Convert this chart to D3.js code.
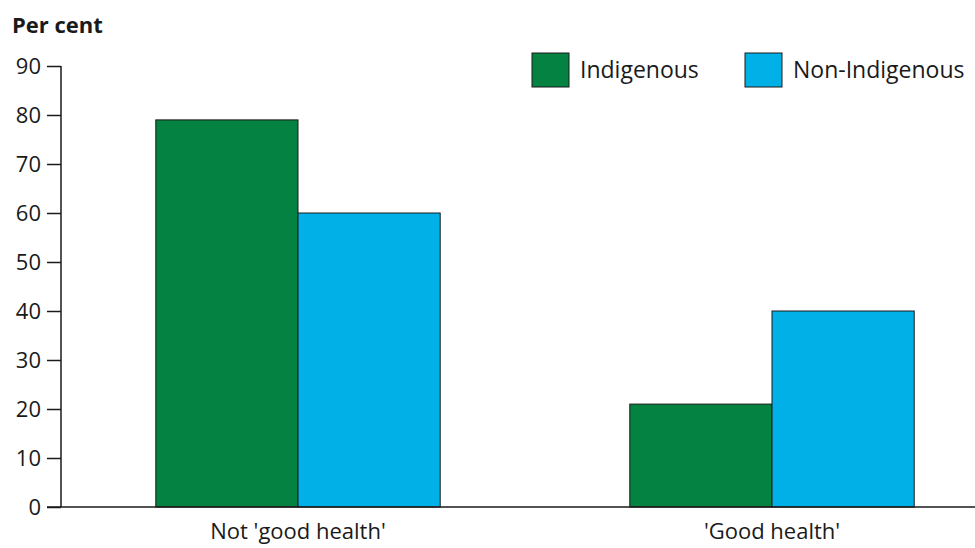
<!DOCTYPE html>
<html>
<head>
<meta charset="utf-8">
<script src="https://cdn.jsdelivr.net/npm/d3@7"></script>
<style>
  body { margin: 0; background: #fff; }
  text { font-family: "Open Sans", sans-serif; }
</style>
</head>
<body>
<script>
// chart data
const categories = ["Not 'good health'", "'Good health'"];
const seriesNames = ["Indigenous", "Non-Indigenous"];
const indigenous = [79, 21];
const nonIndigenous = [60, 40];
const yTicks = [0, 10, 20, 30, 40, 50, 60, 70, 80, 90];

const colors = ["#038241", "#00b0e6"];

const svg = d3.select("body").append("svg")
  .attr("width", 975)
  .attr("height", 548);

const y = d3.scaleLinear().domain([0, 90]).range([507, 66]);

const x0 = d3.scaleBand()
  .domain(categories)
  .range([61, 1009])
  .paddingInner(0.4)
  .paddingOuter(0.2);

const x1 = d3.scaleBand()
  .domain(seriesNames)
  .range([0, x0.bandwidth()]);

const rows = categories.map((c, i) => ({
  cat: c,
  vals: [
    {name: seriesNames[0], v: indigenous[i]},
    {name: seriesNames[1], v: nonIndigenous[i]}
  ]
}));

// bars
const groups = svg.selectAll("g.grp")
  .data(rows)
  .enter().append("g")
  .attr("class", "grp")
  .attr("transform", d => "translate(" + x0(d.cat) + ",0)");

groups.selectAll("rect")
  .data(d => d.vals)
  .enter().append("rect")
  .attr("x", d => x1(d.name))
  .attr("y", d => y(d.v))
  .attr("width", x1.bandwidth())
  .attr("height", d => y(0) - y(d.v))
  .attr("fill", (d, i) => colors[i])
  .attr("stroke", "#1a1a1a")
  .attr("stroke-width", 1);

// y axis
const yAxis = svg.append("g")
  .attr("transform", "translate(61,0)")
  .call(d3.axisLeft(y).tickValues(yTicks).tickSize(14).tickPadding(6));
yAxis.select(".domain").attr("stroke", "#1a1a1a").attr("stroke-width", 1.5)
  .attr("d", "M0," + y(90) + "V" + y(0));
yAxis.selectAll(".tick line").attr("stroke", "#1a1a1a").attr("stroke-width", 1.5);
yAxis.selectAll(".tick text")
  .attr("font-size", 22)
  .attr("fill", "#1a1a1a")
  .style("font-family", "'Open Sans', sans-serif");

// baseline
svg.append("line")
  .attr("x1", 47).attr("x2", 975)
  .attr("y1", y(0)).attr("y2", y(0))
  .attr("stroke", "#1a1a1a")
  .attr("stroke-width", 1.5);

// x labels
svg.selectAll("text.xlab")
  .data(categories)
  .enter().append("text")
  .attr("class", "xlab")
  .attr("x", d => x0(d) + x0.bandwidth() / 2)
  .attr("y", 539)
  .attr("text-anchor", "middle")
  .attr("font-size", 22)
  .attr("fill", "#1a1a1a")
  .text(d => d);

// y title
svg.append("text")
  .attr("x", 12)
  .attr("y", 33)
  .attr("font-size", 22)
  .attr("font-weight", "bold")
  .attr("fill", "#1a1a1a")
  .text("Per cent");

// legend
const legendX = [532, 745];
const legend = svg.selectAll("g.leg")
  .data(seriesNames)
  .enter().append("g")
  .attr("class", "leg")
  .attr("transform", (d, i) => "translate(" + legendX[i] + ",53)");
legend.append("rect")
  .attr("width", 37)
  .attr("height", 34)
  .attr("fill", (d, i) => colors[i])
  .attr("stroke", "#1a1a1a")
  .attr("stroke-width", 1);
legend.append("text")
  .attr("x", 48)
  .attr("y", 25)
  .attr("font-size", 23)
  .attr("fill", "#1a1a1a")
  .text(d => d);
</script>
</body>
</html>
